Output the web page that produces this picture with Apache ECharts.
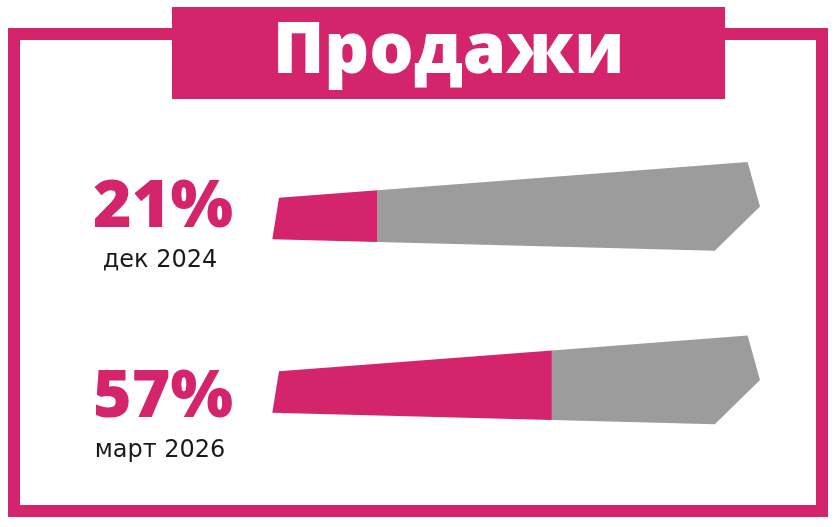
<!DOCTYPE html>
<html lang="ru">
<head>
    <meta charset="UTF-8"/>
    <title>Продажи</title>
    <script src="https://cdn.jsdelivr.net/npm/echarts@6/dist/echarts.min.js"></script>
    <style>
        html, body { margin: 0; padding: 0; background: #fff; }
        #main { width: 836px; height: 527px; }
    </style>
</head>
<body>
<div id="main"></div>
<script type="text/javascript">
    // данные
    var periods = ['дек 2024', 'март 2026'];
    var shares = [21, 57];
    var shareLabels = ['21%', '57%'];

    var PINK = '#D3246C';
    var GRAY = '#9C9C9C';

    var myChart = echarts.init(document.getElementById('main'));

    // форма полосы: расширяется вправо, конец скошен
    function renderBar(params, api) {
        var idx = api.value(1);
        var val = api.value(0);
        var p0 = api.coord([0, idx]);
        var x0 = p0[0], yc = p0[1];
        var x1 = api.coord([100, idx])[0];
        var xs = api.coord([val, idx])[0];
        function top(x) { return yc - 21 - 0.0764 * (x - x0 - 3); }
        function bot(x) { return yc + 20.6 + 0.0258 * (x - x0 + 3.7); }
        var xtr = x1 - 12.4, xbr = x1 - 45.2;
        return {
            type: 'group',
            children: [
                {
                    type: 'polygon',
                    shape: { points: [[x0 + 3, yc - 21], [xs, top(xs)], [xs, bot(xs)], [x0 - 3.7, yc + 20.6]] },
                    style: { fill: PINK }
                },
                {
                    type: 'polygon',
                    shape: { points: [[xs, top(xs)], [xtr, top(xtr)], [x1, yc - 12.2], [xbr, bot(xbr)], [xs, bot(xs)]] },
                    style: { fill: GRAY }
                }
            ]
        };
    }

    // подписи слева: процент и период
    function renderLabel(params, api) {
        var i = api.value(1);
        var p = api.coord([0, i]);
        return {
            type: 'group',
            children: [
                {
                    type: 'text',
                    style: {
                        x: p[0], y: p[1] + 5, text: shareLabels[i],
                        align: 'right', verticalAlign: 'middle',
                        fill: PINK, font: '800 66px "Open Sans"'
                    }
                },
                {
                    type: 'text',
                    style: {
                        x: p[0] - 73, y: p[1] + 58, text: periods[i],
                        align: 'center', verticalAlign: 'middle',
                        fill: '#1a1a1a', font: '400 24px "DejaVu Sans"'
                    }
                }
            ]
        };
    }

    var option = {
        animation: false,
        graphic: [
            { type: 'rect', z: -1, shape: { x: 14, y: 34, width: 808, height: 477 },
              style: { fill: 'none', stroke: PINK, lineWidth: 12 } },
            { type: 'rect', z: 0, shape: { x: 172, y: 7, width: 553, height: 92 },
              style: { fill: PINK } },
            { type: 'text', z: 1,
              style: { x: 448.5, y: 53, text: 'Продажи', align: 'center', verticalAlign: 'middle',
                       fill: '#fff', font: '800 70px "Open Sans"' } }
        ],
        grid: [
            { left: 276, right: 76, top: 132, height: 347 },
            { left: 233, right: 600, top: 108, height: 380 }
        ],
        xAxis: [
            { type: 'value', min: 0, max: 100, show: false, gridIndex: 0 },
            { type: 'value', min: 0, max: 1, show: false, gridIndex: 1 }
        ],
        yAxis: [
            { type: 'category', data: periods, inverse: true, show: false, gridIndex: 0 },
            { type: 'category', data: periods, inverse: true, show: false, gridIndex: 1 }
        ],
        series: [
            {
                type: 'custom', name: 'Продажи',
                xAxisIndex: 0, yAxisIndex: 0, clip: false,
                renderItem: renderBar,
                encode: { x: 0, y: 1 },
                data: shares.map(function (v, i) { return [v, i]; })
            },
            {
                type: 'custom', name: 'Подписи',
                xAxisIndex: 1, yAxisIndex: 1, clip: false,
                renderItem: renderLabel,
                encode: { x: 0, y: 1 },
                data: shares.map(function (v, i) { return [0, i]; })
            }
        ]
    };

    myChart.setOption(option);
</script>
</body>
</html>
